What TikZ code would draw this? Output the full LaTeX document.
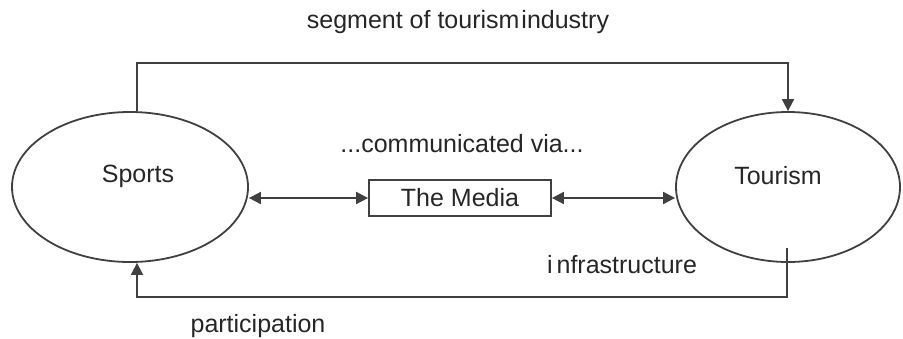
\documentclass[tikz,border=0pt]{standalone}
\usepackage{fontspec}
\setmainfont{Liberation Sans}
\usetikzlibrary{arrows.meta,shapes.geometric}
\begin{document}
\begin{tikzpicture}[x=1pt,y=-1pt,
  ln/.style={draw=black!75, line width=1.8pt},
  tip/.style={-{Triangle[length=12pt,width=12pt]}},
  both/.style={{Triangle[length=12pt,width=12pt]}-{Triangle[length=12pt,width=12pt]}},
  oval/.style={ln, ellipse, inner sep=0pt},
  lbl/.style={font=\fontsize{25}{27}\selectfont, text=black!85, inner sep=0pt}]
\useasboundingbox (0,0) rectangle (903,338);
\node[oval, minimum width=236pt, minimum height=150pt] (sports) at (130,187) {};
\node[oval, minimum width=224pt, minimum height=150pt] (tourism) at (788,187) {};
\node[lbl] (sportslbl) at (138,176) {Sports};
\node[lbl] (tourismlbl) at (778,176) {Tourism};
\node[ln, lbl, rectangle, minimum width=182pt, minimum height=36pt, anchor=center] (media) at (460,198) {The Media};
\node[lbl] (segment) at (458,22) {segment of tourism\hspace{2pt}industry};
\node[lbl] (comm) at (462,144) {...communicated via...};
\node[lbl] (infra) at (622,265) {i\hspace{4pt}nfrastructure};
\node[lbl] (part) at (258,326) {participation};
\coordinate (topL) at (137,63);
\coordinate (botR) at (787,297);
\coordinate (botStart) at (787,248);
\draw[ln, tip] ([xshift=7pt]sports.north) -- (topL) -| (tourism.north);
\draw[ln, tip] (botStart) -- (botR) -| ([xshift=7pt]sports.south);
\draw[ln, both] (sports.east |- media.west) -- (media.west);
\draw[ln, both] (media.east) -- (tourism.west |- media.east);
\end{tikzpicture}
\end{document}
